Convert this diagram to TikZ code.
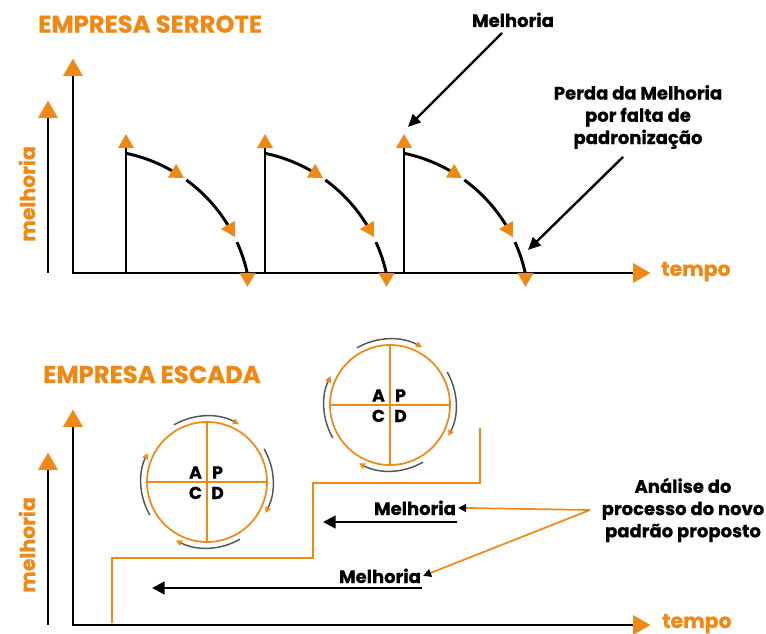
\documentclass[tikz,border=0pt]{standalone}
\usepackage{fontspec}
\setmainfont{Poppins}[BoldFeatures={FakeBold=0.6}]
\usetikzlibrary{shapes.geometric,arrows.meta,calc}
\definecolor{orng}{RGB}{240,137,20}
\definecolor{arcgray}{RGB}{85,85,85}
\begin{document}
\begin{tikzpicture}[x=0.75pt,y=-0.75pt,
  axline/.style={line width=2.2pt,black},
  otri/.style={regular polygon,regular polygon sides=3,fill=orng,inner sep=0pt,outer sep=0pt,minimum size=#1},
  bigtip/.style={otri=17.3pt},
  smalltip/.style={otri=13.9pt},
  ttl/.style={text=orng,font=\bfseries\fontsize{18.2}{21}\selectfont,inner sep=0pt,anchor=base west},
  axlbl/.style={text=orng,font=\bfseries\fontsize{15.3}{18}\selectfont,inner sep=0pt,anchor=base west},
  lbl/.style={font=\bfseries\fontsize{13.5}{16.7}\selectfont,inner sep=0pt,align=center},
  annarrow/.style={line width=1.8pt,-{Triangle[length=9.5pt,width=8.5pt]}},
  bigarrow/.style={line width=1.8pt,-{Triangle[length=9.5pt,width=9.5pt]}},
  orarrow/.style={draw=orng,line width=1.3pt,-{Triangle[length=6pt,width=6pt,color=black]}},
  stair/.style={draw=orng,line width=1.4pt},
  pdcacirc/.style={circle,draw=orng,line width=1.3pt,minimum size=90pt,inner sep=0pt,outer sep=0pt},
  pdcaline/.style={draw=orng,line width=1.3pt},
  pdcaltr/.style={font=\bfseries\fontsize{13}{15}\selectfont,inner sep=0pt,anchor=base},
  cyc/.style={draw=arcgray,line width=1.1pt,-{Triangle[length=4.5pt,width=4.5pt,color=orng]}}
]
\useasboundingbox (0,0) rectangle (766,634);
% ---------------- top: serrote ----------------
\node[ttl] (t1) at (38,32.7) {EMPRESA SERROTE};
\coordinate (s1) at (48,273);
\node[bigtip] (sa1) at (48,112.2) {};
\draw[axline] (s1) -- (sa1.side 2);
\coordinate (o1) at (73,273);
\node[bigtip] (ya1) at (73,70.2) {};
\node[bigtip,rotate=-90] (xa1) at (638.8,273) {};
\draw[axline] (ya1.side 2) -- (o1) -- (xa1.side 2);
\node[axlbl] (tp1) at (661,276) {tempo};
\node[axlbl,rotate=90] (ml1) at (35,242) {melhoria};
\foreach \x/\n in {126/a,265/b,404/c}{
  \coordinate (b\n) at (\x,273);
  \node[smalltip] (u\n) at (\x,143.4) {};
  \draw[axline] (b\n) -- (u\n.side 2);
  \coordinate (c\n) at (\x-32,307);
  \draw[axline] ($(c\n)+(-78.3:157)$) arc[start angle=-78.3,end angle=-60.2,radius=157];
  \node[smalltip,rotate=-121.5] (p\n) at ($(c\n)+(-58.5:157)$) {};
  \draw[axline] ($(c\n)+(-54:157)$) arc[start angle=-54,end angle=-31.5,radius=157];
  \node[smalltip,rotate=-150.2] (q\n) at ($(c\n)+(-29.8:157)$) {};
  \draw[axline] ($(c\n)+(-24.4:157)$) arc[start angle=-24.4,end angle=-12.5,radius=157];
  \node[smalltip,rotate=180] (r\n) at (\x+121.5,277.6) {};
}
\node[lbl,anchor=base] (mel1) at (513,27) {Melhoria};
\coordinate (m1a) at (502,33);
\coordinate (m1b) at (408,127);
\draw[annarrow] (m1a) -- (m1b);
\node[lbl] (perda) at (638,117) {Perda da Melhoria\\por falta de\\padronização};
\coordinate (pa) at (623,157);
\coordinate (pb) at (528,250);
\draw[annarrow] (pa) -- (pb);
% ---------------- bottom: escada ----------------
\node[ttl] (t2) at (43,383) {EMPRESA ESCADA};
\coordinate (s2) at (48,625);
\node[bigtip] (sa2) at (48,464.2) {};
\draw[axline] (s2) -- (sa2.side 2);
\coordinate (o2) at (73,625);
\node[bigtip] (ya2) at (73,421.2) {};
\node[bigtip,rotate=-90] (xa2) at (638.8,625) {};
\draw[axline] (ya2.side 2) -- (o2) -- (xa2.side 2);
\node[axlbl] (tp2) at (662,628) {tempo};
\node[axlbl,rotate=90] (ml2) at (35,593) {melhoria};
\draw[stair] (112,623) -- (112,558) -- (313,558) -- (313,483) -- (480,483) -- (480,428);
\foreach \n/\cx/\cy in {1/207/482,2/390/405}{
  \node[pdcacirc] (pd\n) at (\cx,\cy) {};
  \draw[pdcaline] (pd\n.north) -- (pd\n.south);
  \draw[pdcaline] (pd\n.west) -- (pd\n.east);
  \node[pdcaltr] (la\n) at (\cx-11.5,\cy-3.5) {A};
  \node[pdcaltr] (lp\n) at (\cx+10.5,\cy-3.5) {P};
  \node[pdcaltr] (lc\n) at (\cx-11.5,\cy+17) {C};
  \node[pdcaltr] (ld\n) at (\cx+10.5,\cy+17) {D};
  \draw[cyc] ($(pd\n.center)+(-120:66)$) arc[start angle=-120,end angle=-61,radius=66];
  \draw[cyc] ($(pd\n.center)+(-30:66)$) arc[start angle=-30,end angle=28,radius=66];
  \draw[cyc] ($(pd\n.center)+(60:66)$) arc[start angle=60,end angle=118,radius=66];
  \draw[cyc] ($(pd\n.center)+(-210:66)$) arc[start angle=-210,end angle=-154,radius=66];
}
\coordinate (ar1s) at (457,522);
\coordinate (ar1e) at (323,522);
\draw[bigarrow] (ar1s) -- (ar1e);
\coordinate (ar2s) at (422,588);
\coordinate (ar2e) at (152,588);
\draw[bigarrow] (ar2s) -- (ar2e);
\node[lbl,anchor=base] (mel2) at (415,515) {Melhoria};
\node[lbl,anchor=base] (mel3) at (380,583) {Melhoria};
\node[lbl] (anal) at (683,510) {Análise do\\processo do novo\\padrão proposto};
\coordinate (an) at (590,510);
\draw[orarrow] (an) -- ([xshift=1.5pt]mel2.east);
\draw[orarrow] (an) -- ([xshift=1.5pt]mel3.east);
\end{tikzpicture}
\end{document}
